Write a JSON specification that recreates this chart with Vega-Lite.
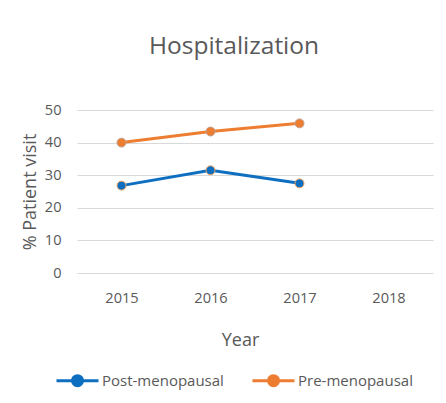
{
  "$schema": "https://vega.github.io/schema/vega-lite/v6.json",
  "autosize": "none",
  "width": 356,
  "height": 163,
  "padding": {"left": 77, "top": 110, "right": 13, "bottom": 130},
  "background": "white",
  "title": {
    "text": "Hospitalization",
    "font": "Open Sans",
    "fontSize": 24.5,
    "fontWeight": "normal",
    "color": "#595959",
    "anchor": "middle",
    "dx": -21,
    "offset": 43
  },
  "data": {
    "values": [
      {"Year": "2015", "Group": "Post-menopausal", "Value": 26.8},
      {"Year": "2016", "Group": "Post-menopausal", "Value": 31.5},
      {"Year": "2017", "Group": "Post-menopausal", "Value": 27.5},
      {"Year": "2015", "Group": "Pre-menopausal", "Value": 40.0},
      {"Year": "2016", "Group": "Pre-menopausal", "Value": 43.4},
      {"Year": "2017", "Group": "Pre-menopausal", "Value": 45.9},
      {"Year": "2018", "Group": "Pre-menopausal", "Value": null}
    ]
  },
  "encoding": {
    "x": {
      "field": "Year",
      "type": "ordinal",
      "sort": ["2015", "2016", "2017", "2018"],
      "scale": {"type": "point", "padding": 0.5, "domain": ["2015", "2016", "2017", "2018"]},
      "axis": {
        "title": "Year",
        "titleFont": "Open Sans",
        "titleFontSize": 18,
        "titleFontWeight": "normal",
        "titleColor": "#595959",
        "titlePadding": 27,
        "titleX": 163,
        "labelFont": "Open Sans",
        "labelFontSize": 14.6,
        "labelColor": "#595959",
        "labelAngle": 0,
        "labelPadding": 17,
        "ticks": false,
        "domain": false,
        "grid": false
      }
    },
    "y": {
      "field": "Value",
      "type": "quantitative",
      "scale": {"domain": [0, 50]},
      "axis": {
        "title": "% Patient visit",
        "titleFont": "Open Sans",
        "titleFontSize": 18,
        "titleFontWeight": "normal",
        "titleColor": "#595959",
        "titlePadding": 5,
        "values": [0, 10, 20, 30, 40, 50],
        "labelFont": "Open Sans",
        "labelFontSize": 14.6,
        "labelColor": "#595959",
        "labelPadding": 16,
        "ticks": false,
        "domain": false,
        "grid": true,
        "gridColor": "#d9d9d9",
        "gridWidth": 1
      }
    },
    "color": {
      "field": "Group",
      "type": "nominal",
      "scale": {"domain": ["Post-menopausal", "Pre-menopausal"], "range": ["#0E6FC0", "#ED7D31"]},
      "legend": {
        "title": null,
        "orient": "none",
        "legendX": -22,
        "legendY": 248,
        "direction": "horizontal",
        "labelFont": "Open Sans",
        "labelFontSize": 15,
        "labelColor": "#595959",
        "symbolType": "M-1,0H1M-0.24,0A0.24,0.24 0 1,1 0.24,0A0.24,0.24 0 1,1 -0.24,0",
        "symbolSize": 1764,
        "symbolStrokeWidth": 3,
        "symbolOpacity": 1,
        "columnPadding": 22,
        "labelOffset": 2
      }
    }
  },
  "layer": [
    {"mark": {"type": "line", "strokeWidth": 3}},
    {
      "mark": {"type": "point", "filled": true, "size": 80, "opacity": 1, "strokeWidth": 1},
      "encoding": {
        "stroke": {
          "field": "Group",
          "type": "nominal",
          "scale": {"domain": ["Post-menopausal", "Pre-menopausal"], "range": ["#F0A060", "#C0A090"]},
          "legend": null
        }
      }
    }
  ],
  "config": {"view": {"stroke": null}}
}
